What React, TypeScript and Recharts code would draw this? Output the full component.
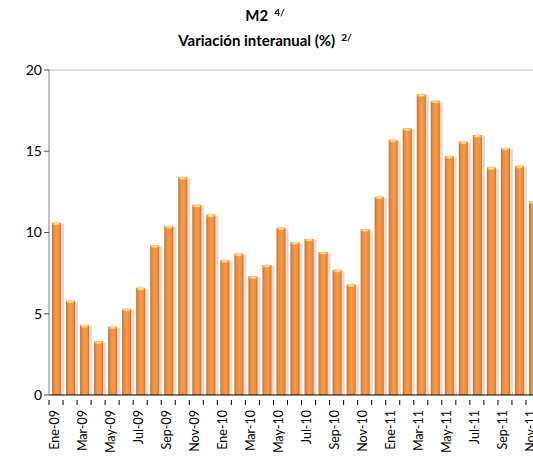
import { Bar, BarChart, ReferenceLine, XAxis, YAxis } from 'recharts';

const months = [
  'Ene-09', 'Feb-09', 'Mar-09', 'Abr-09', 'May-09', 'Jun-09', 'Jul-09', 'Ago-09', 'Sep-09', 'Oct-09', 'Nov-09', 'Dic-09',
  'Ene-10', 'Feb-10', 'Mar-10', 'Abr-10', 'May-10', 'Jun-10', 'Jul-10', 'Ago-10', 'Sep-10', 'Oct-10', 'Nov-10', 'Dic-10',
  'Ene-11', 'Feb-11', 'Mar-11', 'Abr-11', 'May-11', 'Jun-11', 'Jul-11', 'Ago-11', 'Sep-11', 'Oct-11', 'Nov-11',
];

const m2Growth = [
  10.6, 5.8, 4.3, 3.3, 4.2, 5.3, 6.6, 9.2, 10.4, 13.4, 11.7, 11.1,
  8.3, 8.7, 7.3, 8.0, 10.3, 9.4, 9.6, 8.8, 7.7, 6.8, 10.2, 12.2,
  15.7, 16.4, 18.5, 18.1, 14.7, 15.6, 16.0, 14.0, 15.2, 14.1, 11.9,
];

const yTicks = [0, 5, 10, 15, 20];

const data = months.map((month, i) => ({ month, value: m2Growth[i] }));

const FONT = 'Lato, "Open Sans", sans-serif';

function CylinderBar(props: any) {
  const { x, y, width, height } = props;
  if (!height || height <= 0) return null;
  return (
    <g>
      <rect x={x + 1.5} y={y + 1} width={width + 1.5} height={height - 1} fill="#9a9a9a" opacity={0.35} />
      <rect x={x} y={y} width={width} height={height} fill="url(#barGrad)" />
      <ellipse cx={x + width / 2} cy={y + 1} rx={width / 2 - 0.5} ry={1.6} fill="url(#capGrad)" />
    </g>
  );
}

function MonthTick(props: any) {
  const { x, y, payload, index } = props;
  return (
    <g>
      <line x1={x - 7} y1={y - 3} x2={x - 7} y2={y + 2} stroke="#000" strokeWidth={1} />
      {index % 2 === 0 && (
        <text
          x={x - 2}
          y={y + 7}
          transform={`rotate(-90, ${x - 2}, ${y + 7})`}
          textAnchor="end"
          dominantBaseline="central"
          fontSize={12.5}
          fontFamily={FONT}
          fill="#000"
        >
          {payload.value}
        </text>
      )}
    </g>
  );
}

const supStyle = { fontSize: 10, position: 'relative' as const, top: -5, marginLeft: 6 };

export default function App() {
  return (
    <div
      style={{
        position: 'fixed',
        left: 0,
        top: 0,
        width: 533,
        height: 461,
        overflow: 'hidden',
        background: '#fff',
      }}
    >
      <div
        style={{
          position: 'absolute',
          left: 0,
          width: 530,
          top: 4,
          textAlign: 'center',
          fontFamily: FONT,
          fontWeight: 700,
          fontSize: 15,
          lineHeight: '23px',
          color: '#000',
        }}
      >
        <div>
          M2<span style={supStyle}>4/</span>
        </div>
        <div>
          Variación interanual (%)<span style={supStyle}>2/</span>
        </div>
      </div>
      <BarChart
        width={533}
        height={461}
        data={data}
        margin={{ top: 70, right: -7, left: 0, bottom: 0 }}
        barSize={9}
        style={{ overflow: 'hidden' }}
      >
        <defs>
          <linearGradient id="barGrad" x1="0" y1="0" x2="1" y2="0">
            <stop offset="0%" stopColor="#c96f25" />
            <stop offset="25%" stopColor="#f08d3c" />
            <stop offset="55%" stopColor="#f99a48" />
            <stop offset="85%" stopColor="#ee8a38" />
            <stop offset="100%" stopColor="#c2691f" />
          </linearGradient>
          <radialGradient id="capGrad">
            <stop offset="0%" stopColor="#fff3a0" />
            <stop offset="100%" stopColor="#f7b25a" />
          </radialGradient>
        </defs>
        <ReferenceLine y={20} stroke="#bdbdbd" strokeWidth={1} />
        <XAxis
          dataKey="month"
          interval={0}
          height={66}
          tick={<MonthTick />}
          tickLine={false}
          axisLine={{ stroke: '#000', strokeWidth: 1 }}
        />
        <YAxis
          width={49}
          domain={[0, 20]}
          ticks={yTicks}
          tick={{ fontSize: 14, fill: '#000', fontFamily: FONT }}
          tickSize={5}
          tickLine={{ stroke: '#555' }}
          axisLine={{ stroke: '#808080', strokeWidth: 1 }}
        />
        <Bar dataKey="value" shape={<CylinderBar />} isAnimationActive={false} />
      </BarChart>
    </div>
  );
}
